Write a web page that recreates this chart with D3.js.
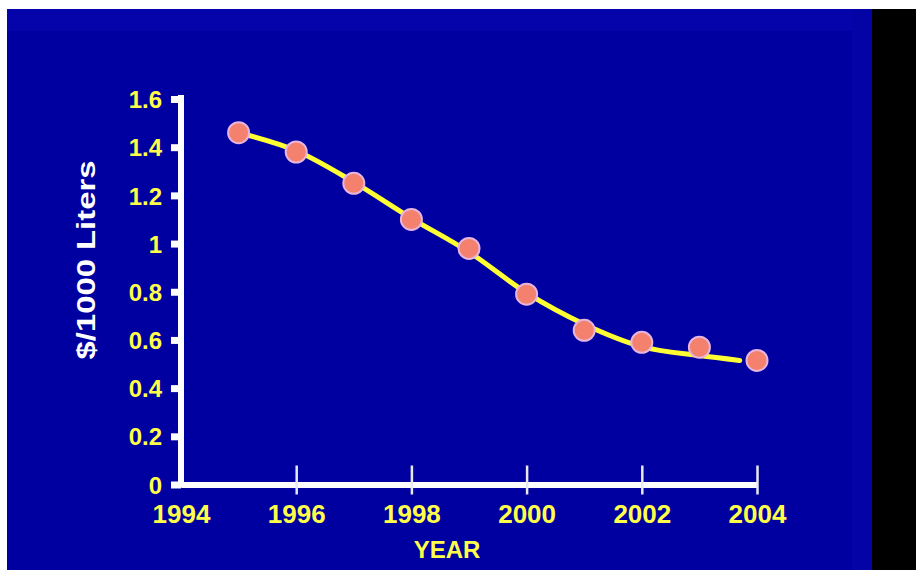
<!DOCTYPE html>
<html>
<head>
<meta charset="utf-8">
<script src="https://cdn.jsdelivr.net/npm/d3@7"></script>
<style>
  html, body { margin:0; padding:0; background:#fff; }
  svg text { font-family:"Liberation Sans", Arial, sans-serif; font-weight:bold; }
</style>
</head>
<body>
<div class="line-chart-container"></div>
<script>
//Data
const years = [1995, 1996, 1997, 1998, 1999, 2000, 2001, 2002, 2003, 2004];
const costs = [1.46, 1.38, 1.25, 1.10, 0.98, 0.79, 0.64, 0.59, 0.57, 0.515];
//fitted trend line
const fitYears = [1995, 1996, 1997, 1998, 1999, 2000, 2001, 2002, 2003, 2003.7];
const fitCosts = [1.46, 1.385, 1.255, 1.105, 0.965, 0.795, 0.665, 0.572, 0.535, 0.515];
const xTicks = [1994, 1996, 1998, 2000, 2002, 2004];
const yTicks = [0, 0.2, 0.4, 0.6, 0.8, 1, 1.2, 1.4, 1.6];

const points = years.map((d, i) => ({year: d, cost: costs[i]}));
const fitLine = fitYears.map((d, i) => ({year: d, cost: fitCosts[i]}));

function setupCanvas(){
    const svg_width = 916;
    const svg_height = 570;

    const svg = d3.select('.line-chart-container').append('svg')
        .attr('width', svg_width).attr('height', svg_height)
        .style('display', 'block');

    //slide background
    svg.append('rect').attr('x', 7).attr('y', 9).attr('width', 865).attr('height', 561)
        .style('fill', '#0000a0');
    svg.append('rect').attr('x', 7).attr('y', 9).attr('width', 865).attr('height', 22)
        .style('fill', '#0404aa');
    svg.append('rect').attr('x', 852).attr('y', 9).attr('width', 20).attr('height', 561)
        .style('fill', '#0303a6');
    svg.append('rect').attr('x', 872).attr('y', 9).attr('width', 44).attr('height', 561)
        .style('fill', '#000');

    //scale
    const xScale = d3.scaleLinear([1994, 2004], [181, 757]);
    const yScale = d3.scaleLinear([0, 1.6], [484.5, 99]);

    //x axis
    const xAxis = d3.axisBottom(xScale).tickValues(xTicks)
        .tickFormat(d3.format('d')).tickSizeOuter(0);
    const xAxisDraw = svg.append('g').attr('class', 'x axis')
        .attr('transform', `translate(0, ${yScale(0)})`).call(xAxis);
    xAxisDraw.select('.domain').attr('stroke', '#fff').attr('stroke-width', 6);
    xAxisDraw.selectAll('.tick line').attr('y1', -19).attr('y2', 10)
        .attr('stroke', '#e8e8f0').attr('stroke-width', 2.5);
    xAxisDraw.selectAll('.tick text').attr('y', 38).attr('dy', 0)
        .style('font-size', '26px').style('fill', '#ffff4a');

    //y axis
    const yAxis = d3.axisLeft(yScale).tickValues(yTicks)
        .tickFormat(d3.format('~g')).tickSizeInner(10).tickSizeOuter(0);
    const yAxisDraw = svg.append('g').attr('class', 'y axis')
        .attr('transform', 'translate(181, 0)').call(yAxis);
    yAxisDraw.select('.domain').attr('stroke', '#fff').attr('stroke-width', 6)
        .attr('d', `M0,${yScale(1.6) - 4}V${yScale(0) + 3}`);
    yAxisDraw.selectAll('.tick line').attr('stroke', '#fff').attr('stroke-width', 7);
    yAxisDraw.selectAll('.tick text').attr('x', -19).attr('dy', '0.36em')
        .style('font-size', '24px').style('fill', '#ffff4a');
    xAxisDraw.selectAll('.tick').filter(d => d == 1994).select('line').remove();

    //fitted curve
    const line = d3.line().x(d => xScale(d.year)).y(d => yScale(d.cost))
        .curve(d3.curveMonotoneX);
    svg.append('path').datum(fitLine).attr('d', line)
        .style('fill', 'none').style('stroke', '#ffff33').style('stroke-width', 5)
        .style('stroke-linecap', 'round');

    //points
    svg.selectAll('.dot').data(points).enter()
        .append('circle').attr('class', 'dot')
        .attr('cx', d => xScale(d.year)).attr('cy', d => yScale(d.cost))
        .attr('r', 10.5)
        .style('fill', '#f4806e').style('stroke', '#e6b4dc').style('stroke-width', 2);

    //axis titles
    svg.append('text').text('YEAR')
        .attr('x', 447).attr('y', 558).attr('text-anchor', 'middle')
        .style('font-size', '24px').style('fill', '#ffff4a');
    svg.append('text').text('$/1000 Liters')
        .attr('transform', 'translate(95, 260) rotate(-90)')
        .attr('text-anchor', 'middle')
        .attr('textLength', 199).attr('lengthAdjust', 'spacingAndGlyphs')
        .style('font-size', '25px').style('fill', '#fff');
}

setupCanvas();
</script>
</body>
</html>
